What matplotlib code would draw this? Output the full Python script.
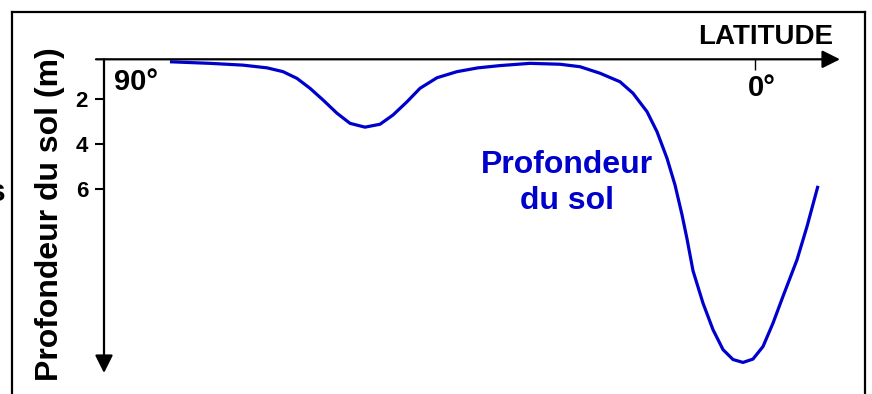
import matplotlib
matplotlib.use('Agg')
import matplotlib.pyplot as plt
from matplotlib.lines import Line2D

plt.rcParams['font.family'] = ['Liberation Sans', 'DejaVu Sans']
plt.rcParams['font.weight'] = 'bold'

# depth of soil along latitude (90 N -> slightly south of equator)
latitude = [80.88, 75.35, 70.78, 67.47, 65.25, 63.32, 61.52, 59.72, 57.79, 55.99,
            53.92, 51.84, 50.05, 48.11, 46.31, 43.96, 41.20, 38.29, 35.25, 31.11,
            26.96, 24.19, 21.43, 18.66, 16.87, 14.93, 13.55, 12.17, 11.06, 10.09,
            9.40, 8.57, 7.19, 5.81, 4.42, 3.04, 1.66, 0.28, -1.11, -2.49,
            -3.87, -5.81, -7.19, -8.71]
depth = [0.33, 0.40, 0.48, 0.60, 0.77, 1.07, 1.51, 2.03, 2.62, 3.07,
         3.24, 3.11, 2.70, 2.11, 1.51, 1.04, 0.77, 0.60, 0.50, 0.40,
         0.44, 0.55, 0.84, 1.22, 1.73, 2.55, 3.44, 4.62, 5.81, 7.14,
         8.21, 9.63, 11.07, 12.25, 13.14, 13.58, 13.71, 13.56, 13.00, 11.96,
         10.77, 9.14, 7.66, 5.85]
depth_ticks = [2, 4, 6]
blue = '#0000cc'

W, H = 872, 394
fig = plt.figure(figsize=(W / 100, H / 100), dpi=100)

# axes box: y-axis at x=104px, x-axis at y=59px
ax = fig.add_axes([104 / W, 1 - 373 / H, 736 / W, 313.7 / H])
xmin, xmax = 90, 90 - 736 / 7.2333
ytop, ybot = 0.22, 14.18
ax.set_xlim(xmin, xmax)
ax.set_ylim(ybot, ytop)
for s in ax.spines.values():
    s.set_visible(False)
ax.patch.set_visible(False)

ax.plot(latitude, depth, color=blue, lw=2.3, clip_on=False,
        solid_capstyle='butt', solid_joinstyle='round')

# axes drawn as arrows
arrow = dict(arrowstyle='-|>,head_length=0.4,head_width=0.2', lw=1.6, color='k',
             mutation_scale=27, shrinkA=0, shrinkB=0)
ax.annotate('', xy=(xmax, ytop), xytext=(xmin + 8 / 7.2333, ytop),
            arrowprops=arrow, annotation_clip=False)
ax.annotate('', xy=(xmin, ybot), xytext=(xmin, ytop),
            arrowprops=arrow, annotation_clip=False)

ax.set_yticks(depth_ticks)
ax.set_yticklabels([str(t) for t in depth_ticks], fontsize=16, fontweight='bold')
ax.tick_params(axis='y', direction='out', length=6.5, width=1.5, pad=5)
ax.set_xticks([0])
ax.tick_params(axis='x', top=True, bottom=False, labeltop=False, labelbottom=False,
               direction='in', length=8, width=1)

ax.annotate('0°', xy=(0, ytop), xytext=(-5, -21), textcoords='offset points',
            ha='left', va='center', fontsize=21, fontweight='bold')
ax.annotate('90°', xy=(xmin, ytop), xytext=(7, -16), textcoords='offset points',
            ha='left', va='center', fontsize=21, fontweight='bold')

fig.text(833 / W, 1 - 37 / H, 'LATITUDE', ha='right', va='center',
         fontsize=20, fontweight='bold')
fig.text(50 / W, 1 - 214 / H, 'Profondeur du sol (m)', rotation=90,
         ha='center', va='center', fontsize=23, fontweight='bold')
fig.text(567 / W, 1 - 183 / H, 'Profondeur\ndu sol', ha='center', va='center',
         fontsize=23, fontweight='bold', color=blue, linespacing=1.3)
fig.text(6 / W, 1 - 193 / H, 's', ha='right', va='center',
         fontsize=23, fontweight='bold')

# frame around the panel (bottom edge cut off)
for xs, ys in [([12, 12], [12, H]), ([12, 865], [12, 12]), ([865, 865], [12, H])]:
    fig.add_artist(Line2D([x / W for x in xs], [1 - y / H for y in ys],
                          transform=fig.transFigure, color='k', lw=1.6,
                          solid_capstyle='projecting'))

fig.savefig('out.png', dpi=100)
